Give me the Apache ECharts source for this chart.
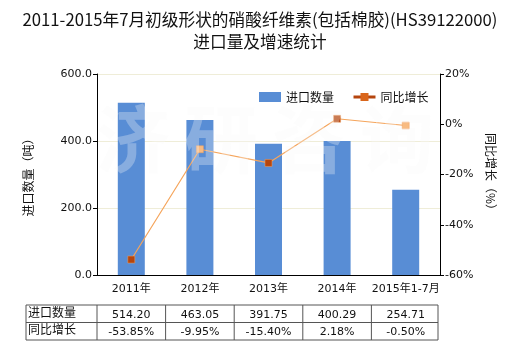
<!DOCTYPE html>
<html><head><meta charset="utf-8">
<script src="https://cdn.jsdelivr.net/npm/echarts@6/dist/echarts.min.js"></script>
<style>html,body{margin:0;padding:0;background:#fff}#c{width:520px;height:350px}</style>
</head><body><div id="c"></div>
<script>
var titleLines = ['2011-2015年7月初级形状的硝酸纤维素(包括棉胶)(HS39122000)', '进口量及增速统计'];
var categories = ['2011年', '2012年', '2013年', '2014年', '2015年1-7月'];
var importQty = [514.20, 463.05, 391.75, 400.29, 254.71];
var yoyGrowth = [-53.85, -9.95, -15.40, 2.18, -0.50];
var qtyLabels = ['514.20', '463.05', '391.75', '400.29', '254.71'];
var growthLabels = ['-53.85%', '-9.95%', '-15.40%', '2.18%', '-0.50%'];
var seriesNames = ['进口数量', '同比增长'];
var leftAxisName = '进口数量（吨）';
var rightAxisName = '同比增长（%）';
var watermark = ['济', '研', '咨', '询'];
var lightMarkers = [1, 4];

var FONT = '"DejaVu Sans","Noto Sans CJK SC",sans-serif';
var CJK = '"Noto Sans CJK SC",sans-serif';
var G = {left: 97, top: 74, right: 80, bottom: 75};
var gw = 520 - G.left - G.right;
var colW = gw / categories.length;

var graphics = [];
watermark.forEach(function (ch, i) {
  graphics.push({type: 'text', left: 96 + i * 88, top: 102, z: 10, silent: true,
    style: {text: ch, font: 'bold 74px ' + CJK, fill: 'rgba(249,249,249,0.3)'}});
});
var tTop = 305, rowH = 17.5, tLeft = 26, tRight = G.left + gw - 2;
var lineStyle = {stroke: '#555', lineWidth: 1};
for (var r = 0; r <= 2; r++) {
  graphics.push({type: 'line', shape: {x1: tLeft, y1: tTop + r * rowH, x2: tRight, y2: tTop + r * rowH}, style: lineStyle});
}
var colXs = [tLeft, G.left];
for (var c = 1; c <= categories.length; c++) colXs.push(c === categories.length ? tRight : G.left + c * colW);
colXs.forEach(function (x) {
  graphics.push({type: 'line', shape: {x1: x, y1: tTop, x2: x, y2: tTop + 2 * rowH}, style: lineStyle});
});
[seriesNames[0], seriesNames[1]].forEach(function (n, r) {
  graphics.push({type: 'text', left: tLeft + 2, top: tTop + r * rowH + 1,
    style: {text: n, font: '12px ' + CJK, fill: '#111'}});
});
[qtyLabels, growthLabels].forEach(function (arr, r) {
  arr.forEach(function (t, i) {
    graphics.push({type: 'text', x: G.left + (i + 0.5) * colW, y: tTop + r * rowH + rowH / 2 + 1,
      style: {text: t, font: '11px ' + FONT, fill: '#111', align: 'center', verticalAlign: 'middle'}});
  });
});

var chart = echarts.init(document.getElementById('c'), null, {renderer: 'canvas'});
chart.setOption({
  animation: false,
  backgroundColor: '#fff',
  title: {text: titleLines.join('\n'), left: 'center', top: 4,
    textStyle: {fontFamily: CJK, fontSize: 16.7, fontWeight: 'normal', color: '#111', lineHeight: 22}},
  grid: G,
  legend: {top: 86, left: 254, itemWidth: 22, itemHeight: 10, itemGap: 18,
    textStyle: {fontFamily: CJK, fontSize: 12, color: '#111'},
    data: [{name: seriesNames[0], icon: 'rect'},
      {name: seriesNames[1], itemStyle: {color: '#d9661c', borderWidth: 0}, lineStyle: {color: '#b5450e', width: 3}}]},
  xAxis: {type: 'category', data: categories,
    axisLine: {lineStyle: {color: '#000'}},
    axisTick: {alignWithLabel: true, length: 3, lineStyle: {color: '#000'}},
    axisLabel: {fontFamily: FONT, fontSize: 11, color: '#111', margin: 9, interval: 0}},
  yAxis: [
    {type: 'value', min: 0, max: 600, interval: 200, name: leftAxisName, nameLocation: 'middle', nameGap: 63,
      nameRotate: 90, nameTextStyle: {fontFamily: CJK, fontSize: 12, color: '#111'},
      axisLine: {show: true, lineStyle: {color: '#000'}}, axisTick: {show: true, length: 4, lineStyle: {color: '#000'}},
      axisLabel: {fontFamily: FONT, fontSize: 11, color: '#111', margin: 5, formatter: function (v) { return v.toFixed(1); }},
      splitLine: {lineStyle: {color: '#efedd8'}}},
    {type: 'value', min: -60, max: 20, interval: 20, name: rightAxisName, nameLocation: 'middle', nameGap: 44,
      nameRotate: -90, nameTextStyle: {fontFamily: CJK, fontSize: 12, color: '#111'},
      axisLine: {show: true, lineStyle: {color: '#000'}}, axisTick: {show: true, length: 4, lineStyle: {color: '#000'}},
      axisLabel: {fontFamily: FONT, fontSize: 11, color: '#111', margin: 5, formatter: '{value}%'},
      splitLine: {show: false}}
  ],
  series: [
    {name: seriesNames[0], type: 'bar', data: importQty, barWidth: 27, itemStyle: {color: '#588dd5'}, z: 2},
    {name: seriesNames[1], type: 'line', yAxisIndex: 1, data: yoyGrowth, symbol: 'rect', symbolSize: 7, z: 3,
      lineStyle: {color: '#f5a55c', width: 1.2},
      itemStyle: {color: function (p) { return lightMarkers.indexOf(p.dataIndex) >= 0 ? '#f8bb82' : '#b5450e'; },
        borderColor: '#f0a060', borderWidth: 0.5}}
  ],
  graphic: graphics
});
</script></body></html>
